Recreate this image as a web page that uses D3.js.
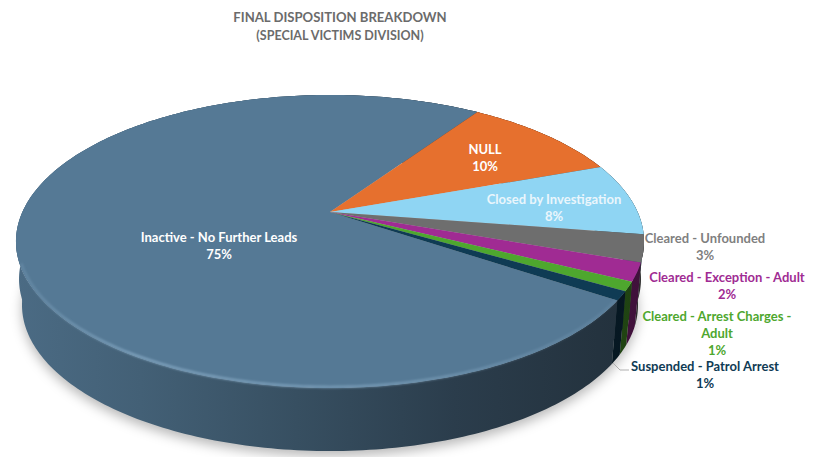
<!DOCTYPE html>
<html>
<head>
<meta charset="utf-8">
<style>
  html, body { margin: 0; padding: 0; background: #fff; }
  svg { display: block; }
  text { font-family: Lato, "Noto Sans", sans-serif; font-weight: 700; text-anchor: middle; }
</style>
<script src="https://cdnjs.cloudflare.com/ajax/libs/d3/7.8.5/d3.min.js"></script>
</head>
<body>
<svg id="chart" width="819" height="457"></svg>
<script>
const titleLines = ["FINAL DISPOSITION BREAKDOWN", "(SPECIAL VICTIMS DIVISION)"];
const categories = [
  "Inactive - No Further Leads",
  "NULL",
  "Closed by Investigation",
  "Cleared - Unfounded",
  "Cleared - Exception - Adult",
  "Cleared - Arrest Charges - Adult",
  "Suspended - Patrol Arrest"
];
const shares = [75, 10, 8, 3, 2, 1, 1];
const sliceColors = ["#557995", "#E6702E", "#8FD5F3", "#6E6E6E", "#A02B93", "#4EA72E", "#0F3B54"];
const labelColors = ["#ffffff", "#ffffff", "#EAF6FC", "#7F7F7F", "#A02B93", "#4EA72E", "#0F3B54"];

// Label blocks: centre x, first baseline, wrapped category lines.
const labelLayout = [
  { x: 219, y: 242, lines: ["Inactive - No Further Leads"] },
  { x: 485, y: 154, lines: ["NULL"] },
  { x: 554, y: 204, lines: ["Closed by Investigation"] },
  { x: 705, y: 243, lines: ["Cleared - Unfounded"] },
  { x: 727, y: 282, lines: ["Cleared - Exception - Adult"] },
  { x: 717, y: 321, lines: ["Cleared - Arrest Charges -", "Adult"] },
  { x: 705, y: 371, lines: ["Suspended - Patrol Arrest"] }
];

// The tilted disc is a projective view of a unit circle: the near edge is
// stretched, so the apex sits above the centre of the drawn ellipse.
// The shoulder disc keeps the wall nearly vertical just under the rim.
const topDisc = { x0: 330, y0: 212, A: 140.6, B: 307.6, k: 0.2014 };
const shoulderDisc = { x0: 330, y0: 249.6, A: 140.4, B: 304.6, k: 0.2014 };
const baseDisc = { x0: 330, y0: 275.6, A: 140.1, B: 301.7, k: 0.2014 };
const project = (disc, theta, r = 1) => {
  const u = r * Math.sin(theta), v = -r * Math.cos(theta);
  const w = 1 - disc.k * v;
  return [disc.x0 + disc.B * u / w, disc.y0 + disc.A * v / w];
};

const toRad = d => d * Math.PI / 180;
const arcs = d3.pie().sort(null).startAngle(toRad(124)).endAngle(toRad(484))
  .value(d => d)(shares);

const sweep = (a0, a1) => {
  const n = Math.max(2, Math.ceil(Math.abs(a1 - a0) / toRad(1)));
  return d3.range(n + 1).map(i => a0 + (a1 - a0) * i / n);
};
const line = d3.line();

const svg = d3.select("#chart");
const defs = svg.append("defs");
defs.append("filter").attr("id", "soft").attr("x", "-10%").attr("y", "-20%").attr("width", "120%").attr("height", "140%")
  .append("feGaussianBlur").attr("stdDeviation", 6);
defs.append("filter").attr("id", "rimBlur").attr("filterUnits", "userSpaceOnUse")
  .attr("x", 0).attr("y", 200).attr("width", 700).attr("height", 220)
  .append("feGaussianBlur").attr("stdDeviation", 1.1);

const wallStops = [[0, 0.35], [0.2, 0.65], [0.45, 1.2], [0.7, 1.9], [1, 2.6]];
arcs.forEach((a, i) => {
  const g = defs.append("linearGradient").attr("id", "wall" + i)
    .attr("gradientUnits", "userSpaceOnUse")
    .attr("x1", 15).attr("x2", 642).attr("y1", 0).attr("y2", 0);
  wallStops.forEach(([o, k]) => g.append("stop").attr("offset", o)
    .attr("stop-color", d3.color(sliceColors[i]).darker(k).formatHex()));
});

// Bevel highlight fades out toward both ends of the near edge
const rimGradient = defs.append("linearGradient").attr("id", "rim")
  .attr("gradientUnits", "userSpaceOnUse")
  .attr("x1", 15).attr("x2", 620).attr("y1", 0).attr("y2", 0);
[[0, 0.25], [0.2, 0.8], [0.65, 0.6], [1, 0.15]].forEach(([o, op]) =>
  rimGradient.append("stop").attr("offset", o).attr("stop-color", "#86A9C4").attr("stop-opacity", op));

// Ground shadow under the disc
const full = sweep(0, 2 * Math.PI);
svg.append("path")
  .attr("d", line(full.map(t => project(baseDisc, t))) + "Z")
  .attr("transform", "translate(0,5)")
  .attr("fill", "#000").attr("fill-opacity", 0.28).attr("filter", "url(#soft)");

// Side wall per slice: rim to base, then rim to shoulder on top of it
const band = (a, upper, lower) => {
  const t = sweep(a.startAngle, a.endAngle);
  return line(t.map(x => project(upper, x)).concat(t.slice().reverse().map(x => project(lower, x)))) + "Z";
};
[baseDisc, shoulderDisc].forEach(lower => {
  svg.append("g").selectAll("path").data(arcs).join("path")
    .attr("d", a => band(a, topDisc, lower))
    .attr("fill", (a, i) => `url(#wall${i})`);
});

// Top face
svg.append("g").selectAll("path").data(arcs).join("path")
  .attr("d", a => line([[topDisc.x0, topDisc.y0]].concat(sweep(a.startAngle, a.endAngle).map(x => project(topDisc, x)))) + "Z")
  .attr("fill", (a, i) => sliceColors[i]);

// Bevel highlight along the near edge
svg.append("path")
  .attr("d", line(sweep(toRad(124), toRad(250)).map(x => project(topDisc, x, 0.995))))
  .attr("fill", "none").attr("stroke", "url(#rim)")
  .attr("stroke-width", 2.6).attr("filter", "url(#rimBlur)");

// Leader for the last slice
svg.append("polyline")
  .attr("points", "613,363 620,370 629,370")
  .attr("fill", "none").attr("stroke", "#B0B0B0").attr("stroke-width", 1);

// Title
svg.append("g").selectAll("text").data(titleLines).join("text")
  .attr("x", 340).attr("y", (d, i) => 22 + i * 18)
  .attr("font-size", (d, i) => i === 0 ? 13.1 : 12.5).attr("fill", "#6B6B6B").text(d => d);

// Data labels
const labels = svg.append("g").selectAll("g").data(arcs).join("g")
  .attr("fill", (a, i) => labelColors[i]);
labels.each(function (a, i) {
  const spec = labelLayout[i];
  const rows = spec.lines.concat([a.value + "%"]);
  d3.select(this).selectAll("text").data(rows).join("text")
    .attr("x", spec.x).attr("y", (d, j) => spec.y + j * 17)
    .attr("font-size", 13).text(d => d);
});
</script>
</body>
</html>
